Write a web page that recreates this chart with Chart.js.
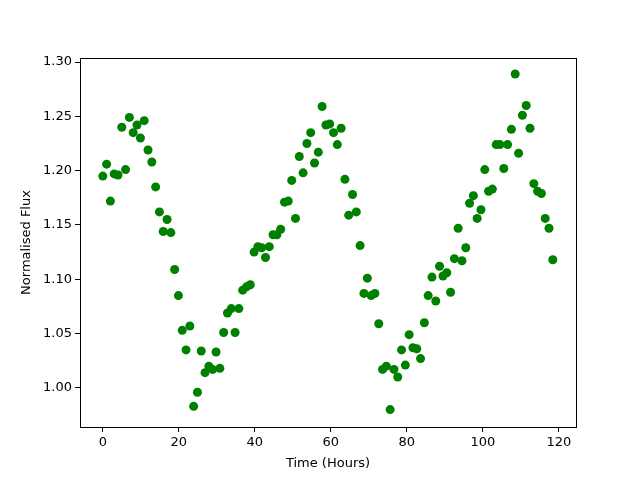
<!DOCTYPE html>
<html>
<head>
<meta charset="utf-8">
<script src="https://cdn.jsdelivr.net/npm/chart.js@4"></script>
<style>
  body { margin: 0; background: #fff; }
</style>
</head>
<body>
<canvas id="fluxchart" width="640" height="480"></canvas>
<script>
// time of each sample, hours
let timeHours = [
  0,1,2,3,4,5,6,7,8,9,
  9.9,10.9,11.9,12.9,13.9,14.9,15.9,16.9,17.9,18.9,
  19.9,20.9,21.9,22.9,23.9,24.9,25.9,26.9,27.9,28.9,
  29.8,30.8,31.8,32.8,33.8,34.8,35.8,36.8,37.8,38.8,
  39.8,40.8,41.8,42.8,43.8,44.8,45.8,46.8,47.8,48.8,
  49.7,50.7,51.7,52.7,53.7,54.7,55.7,56.7,57.7,58.7,
  59.7,60.7,61.7,62.7,63.7,64.7,65.7,66.7,67.7,68.7,
  69.6,70.6,71.6,72.6,73.6,74.6,75.6,76.6,77.6,78.6,
  79.6,80.6,81.6,82.6,83.6,84.6,85.6,86.6,87.6,88.6,
  89.5,90.5,91.5,92.5,93.5,94.5,95.5,96.5,97.5,98.5,
  99.5,100.5,101.5,102.5,103.5,104.5,105.5,106.5,107.5,108.5,
  109.4,110.4,111.4,112.4,113.4,114.4,115.4,116.4,117.4,118.4
]
let fluxValues = [
  1.195,1.206,1.172,1.197,1.196,1.240,1.201,1.249,1.235,1.242,
  1.230,1.246,1.219,1.208,1.185,1.162,1.144,1.155,1.143,1.109,
  1.085,1.053,1.035,1.057,0.983,0.996,1.034,1.014,1.020,1.017,
  1.033,1.018,1.051,1.069,1.073,1.051,1.073,1.090,1.093,1.095,
  1.125,1.130,1.129,1.120,1.130,1.141,1.141,1.146,1.171,1.172,
  1.191,1.156,1.213,1.198,1.225,1.235,1.207,1.217,1.259,1.242,
  1.243,1.235,1.224,1.239,1.192,1.159,1.178,1.162,1.131,1.087,
  1.101,1.085,1.087,1.059,1.017,1.020,0.980,1.017,1.010,1.035,
  1.021,1.049,1.037,1.036,1.027,1.060,1.085,1.102,1.080,1.112,
  1.103,1.106,1.088,1.119,1.147,1.117,1.129,1.170,1.177,1.156,
  1.164,1.201,1.181,1.183,1.224,1.224,1.202,1.224,1.238,1.289,
  1.216,1.251,1.260,1.239,1.188,1.181,1.179,1.156,1.147,1.118
]
let xTicks = [0,20,40,60,80,100,120]
let yTicks = [1.00,1.05,1.10,1.15,1.20,1.25,1.30]

let points = timeHours.map((t, i) => ({x: t, y: fluxValues[i]}))

// matplotlib style box round the plot
let boxPlugin = {
  id: 'box',
  afterDraw(chart) {
    let a = chart.chartArea
    let ctx = chart.ctx
    ctx.save()
    ctx.strokeStyle = '#000'
    ctx.lineWidth = 1
    ctx.strokeRect(Math.round(a.left) + 0.5, Math.round(a.top) + 0.5,
      Math.round(a.right - a.left), Math.round(a.bottom - a.top))
    ctx.restore()
  }
}

let ctx = document.querySelector('#fluxchart').getContext('2d')

let fluxChart = new Chart(ctx, {
  type: 'scatter',
  data: {
    datasets: [{
      data: points,
      backgroundColor: '#008000',
      borderColor: '#008000',
      borderWidth: 0,
      pointRadius: 4.5,
      pointHoverRadius: 4.5
    }]
  },
  options: {
    responsive: false,
    animation: false,
    events: [],
    layout: { padding: { top: 58, right: 64, left: 0, bottom: 0 } },
    plugins: {
      legend: { display: false },
      tooltip: { enabled: false }
    },
    scales: {
      x: {
        type: 'linear',
        min: -6,
        max: 124.5,
        afterBuildTicks: axis => { axis.ticks = xTicks.map(v => ({value: v})) },
        afterFit: axis => { axis.height = 53 },
        grid: { drawOnChartArea: false, drawTicks: true, tickLength: 5, color: '#000' },
        border: { display: false },
        ticks: { color: '#000', padding: 3, maxRotation: 0, font: { family: 'DejaVu Sans', size: 13 } },
        title: { display: true, text: 'Time (Hours)', color: '#000', padding: { top: 2, bottom: 9 },
                 font: { family: 'DejaVu Sans', size: 13 } }
      },
      y: {
        type: 'linear',
        min: 0.964,
        max: 1.3037,
        afterBuildTicks: axis => { axis.ticks = yTicks.map(v => ({value: v})) },
        afterFit: axis => { axis.width = 80 },
        grid: { drawOnChartArea: false, drawTicks: true, tickLength: 5, color: '#000' },
        border: { display: false },
        ticks: { color: '#000', padding: 3, callback: v => v.toFixed(2),
                 font: { family: 'DejaVu Sans', size: 13 } },
        title: { display: true, text: 'Normalised Flux', color: '#000', padding: { top: 19, bottom: 4 },
                 font: { family: 'DejaVu Sans', size: 13 } }
      }
    }
  },
  plugins: [boxPlugin]
})
</script>
</body>
</html>
